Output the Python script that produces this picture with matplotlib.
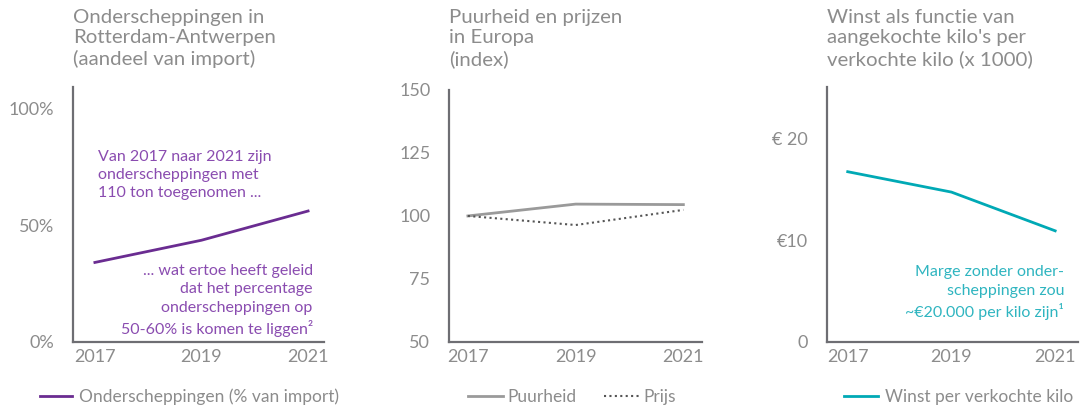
import matplotlib.pyplot as plt

plt.rcParams['font.family'] = ['Lato', 'DejaVu Sans']

# data
years = [2017, 2019, 2021]
onderscheppingen = [34, 43.5, 56]
puurheid = [100, 104.7, 104.5]
prijs = [100, 96.4, 102.4]
winst = [16.7, 14.7, 10.9]

pct_ticks = [0, 50, 100]
pct_labels = ['0%', '50%', '100%']
idx_ticks = [50, 75, 100, 125, 150]
eur_ticks = [0, 10, 20]
eur_labels = ['0', '€10', '€ 20']

titles = ['Onderscheppingen in\nRotterdam-Antwerpen\n(aandeel van import)',
          'Puurheid en prijzen\nin Europa\n(index)',
          "Winst als functie van\naangekochte kilo's per\nverkochte kilo (x 1000)"]

grey = '#8c8c8c'
axis_col = '#6e6e73'
purple = '#6a2c91'
purple_txt = '#8a4cb0'
teal = '#00a9b5'
teal_txt = '#2fb5c0'

fig = plt.figure(figsize=(10.82, 4.09), dpi=100)

ax1 = fig.add_axes([0.0675, 0.164, 0.232, 0.623])
ax2 = fig.add_axes([0.415, 0.164, 0.234, 0.616])
ax3 = fig.add_axes([0.7643, 0.164, 0.232, 0.623])

for ax in (ax1, ax2, ax3):
    for s in ('top', 'right'):
        ax.spines[s].set_visible(False)
    for s in ('left', 'bottom'):
        ax.spines[s].set_color(axis_col)
        ax.spines[s].set_linewidth(1.6)
    ax.tick_params(length=0, colors=grey, labelsize=13)
    ax.tick_params(axis='y', pad=13.5)
    ax.tick_params(axis='x', pad=5)
    ax.set_xticks(years)
    ax.set_xticklabels([str(y) for y in years])

# panel 1
ax1.plot(years, onderscheppingen, color=purple, lw=2, label='Onderscheppingen (% van import)')
ax1.set_xlim(2016.59, 2021.3)
ax1.set_ylim(0, 109)
ax1.set_yticks(pct_ticks)
ax1.set_yticklabels(pct_labels)
ax1.text(0.1, 0.755, 'Van 2017 naar 2021 zijn\nonderscheppingen met\n110 ton toegenomen ...',
         transform=ax1.transAxes, color=purple_txt, fontsize=11.5, va='top', ha='left',
         linespacing=1.38)
ax1.text(0.955, 0.305, '... wat ertoe heeft geleid\ndat het percentage\nonderscheppingen op\n50-60% is komen te liggen²',
         transform=ax1.transAxes, color=purple_txt, fontsize=11.5, va='top', ha='right',
         linespacing=1.38, multialignment='right')
ax1.legend(loc='center left', bbox_to_anchor=(-0.16, -0.215), frameon=False, fontsize=12.5,
           handlelength=1.85, handletextpad=0.4, labelcolor=grey, borderaxespad=0)

# panel 2
ax2.plot(years, puurheid, color='#9a9a9a', lw=2, label='Puurheid')
ax2.plot(years, prijs, color='#555555', lw=1.5, ls=(0, (1, 1.6)), label='Prijs')
ax2.set_xlim(2016.65, 2021.35)
ax2.set_ylim(50, 150)
ax2.set_yticks(idx_ticks)
ax2.legend(loc='center left', bbox_to_anchor=(0.047, -0.22), frameon=False, fontsize=12.5, ncol=2,
           handlelength=2.0, handletextpad=0.3, columnspacing=1.55, labelcolor=grey, borderaxespad=0)

# panel 3
ax3.plot(years, winst, color=teal, lw=2, label='Winst per verkochte kilo')
ax3.set_xlim(2016.6, 2021.44)
ax3.set_ylim(0, 25)
ax3.set_yticks(eur_ticks)
ax3.set_yticklabels(eur_labels)
ax3.text(0.945, 0.3, 'Marge zonder onder-\nscheppingen zou\n~€20.000 per kilo zijn¹',
         transform=ax3.transAxes, color=teal_txt, fontsize=11.5, va='top', ha='right',
         linespacing=1.38, multialignment='right')
ax3.legend(loc='center left', bbox_to_anchor=(0.04, -0.215), frameon=False, fontsize=12.5,
           handlelength=1.95, handletextpad=0.4, labelcolor=grey, borderaxespad=0)

# titles
for x, t in zip([0.0675, 0.415, 0.7643], titles):
    fig.text(x, 0.977, t, ha='left', va='top', color=grey, fontsize=14.7,
             linespacing=1.22)

fig.savefig('out.png', dpi=100)
